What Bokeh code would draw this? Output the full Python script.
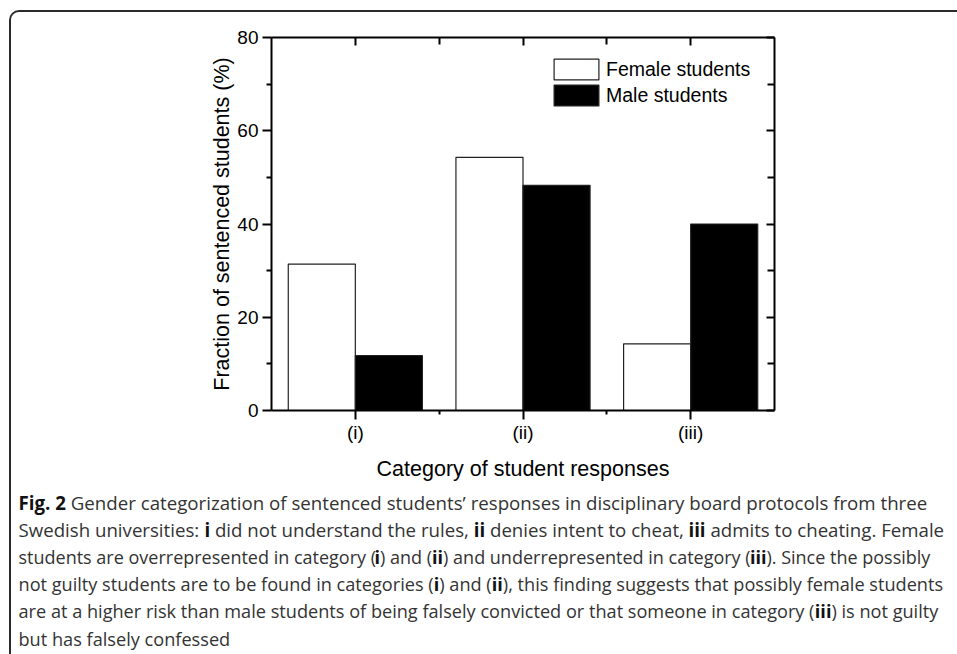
import glob
import os
import numpy as np
from bokeh.plotting import figure
from bokeh.layouts import column
from bokeh.models import (Range1d, LinearAxis, FixedTicker, Legend, LegendItem,
                          ColumnDataSource, InlineStyleSheet)
from bokeh.core.properties import value
from bokeh.embed import file_html
from bokeh.resources import INLINE

# ---------------- data ----------------
categories = ["(i)", "(ii)", "(iii)"]
female = [31.4, 54.3, 14.3]
male = [11.8, 48.3, 40.0]
series_names = ["Female students", "Male students"]
y_ticks = [0, 20, 40, 60, 80]
y_minor = [10, 30, 50, 70]
x_title = "Category of student responses"
y_title = "Fraction of sentenced students (%)"

caption_lines = [
    [("Fig. 2", True), (" Gender categorization of sentenced students\u2019 responses in disciplinary board protocols from three", False)],
    [("Swedish universities: ", False), ("i", True), (" did not understand the rules, ", False), ("ii", True),
     (" denies intent to cheat, ", False), ("iii", True), (" admits to cheating. Female", False)],
    [("students are overrepresented in category (", False), ("i", True), (") and (", False), ("ii", True),
     (") and underrepresented in category (", False), ("iii", True), ("). Since the possibly", False)],
    [("not guilty students are to be found in categories (", False), ("i", True), (") and (", False), ("ii", True),
     ("), this finding suggests that possibly female students", False)],
    [("are at a higher risk than male students of being falsely convicted or that someone in category (", False),
     ("iii", True), (") is not guilty", False)],
    [("but has falsely confessed", False)],
]
# measured line lengths of the caption in the reference (pixels)
caption_line_widths = [908, 926, 912, 925, 920, 212]

# ---------------- layout constants ----------------
W = 957
H_CHART, H_CAP = 490, 164
ML, MR, MT = 271, 183, 37
MB = H_CHART - MT - 373
FONT = "Liberation Sans"
CAP_FONT = "Open Sans"

p = figure(width=W, height=H_CHART, output_backend="svg", toolbar_location=None,
           x_range=Range1d(0.5, 3.5), y_range=Range1d(0, 80),
           min_border_left=ML, min_border_right=MR, min_border_top=MT, min_border_bottom=MB)
p.frame_align = False
p.xgrid.visible = False
p.ygrid.visible = False
p.outline_line_color = None
p.background_fill_color = "white"
p.border_fill_color = "white"

xpos = list(range(1, len(categories) + 1))
x_ticker = FixedTicker(ticks=xpos, minor_ticks=[v + 0.5 for v in xpos[:-1]])
y_ticker = FixedTicker(ticks=y_ticks, minor_ticks=y_minor)


def base_style(ax):
    ax.axis_line_width = 2
    ax.axis_line_color = "black"
    ax.major_tick_line_width = 2
    ax.minor_tick_line_width = 2
    ax.major_tick_line_color = "black"
    ax.minor_tick_line_color = "black"
    ax.major_label_text_font = FONT
    ax.major_label_text_font_size = "19px"
    ax.major_label_text_color = "black"
    ax.axis_label_text_font = FONT
    ax.axis_label_text_font_size = "21.5px"
    ax.axis_label_text_font_style = "normal"
    ax.axis_label_text_color = "black"


xa = p.xaxis[0]
base_style(xa)
xa.ticker = x_ticker
xa.major_label_overrides = {v: c for v, c in zip(xpos, categories)}
xa.major_tick_out = 9
xa.major_tick_in = 0
xa.minor_tick_out = 4
xa.minor_tick_in = 0
xa.major_label_standoff = 2
xa.axis_label = x_title
xa.axis_label_standoff = 11

ya = p.yaxis[0]
base_style(ya)
ya.ticker = y_ticker
ya.major_tick_out = 9
ya.major_tick_in = 0
ya.minor_tick_out = 5
ya.minor_tick_in = 0
ya.major_label_standoff = 4
ya.axis_label = y_title
ya.axis_label_standoff = 0

top = LinearAxis(ticker=x_ticker)
base_style(top)
top.major_label_overrides = {v: "" for v in xpos}
top.major_tick_in = 8
top.major_tick_out = 0
top.minor_tick_in = 7
top.minor_tick_out = 0
p.add_layout(top, "above")

right = LinearAxis(ticker=y_ticker)
base_style(right)
right.major_label_overrides = {v: "" for v in y_ticks}
right.major_tick_in = 8
right.major_tick_out = 0
right.minor_tick_in = 7
right.minor_tick_out = 0
p.add_layout(right, "right")

# ---------------- bars ----------------
xs = np.array(xpos, dtype=float)
src = ColumnDataSource(dict(xf=xs - 0.2, xm=xs + 0.2, female=female, male=male))
rf = p.vbar(x="xf", top="female", bottom=0, width=0.4, source=src,
            fill_color="white", line_color="#222222", line_width=1.2)
rm = p.vbar(x="xm", top="male", bottom=0, width=0.4, source=src,
            fill_color="black", line_color="#222222", line_width=1.2)

legend = Legend(items=[LegendItem(label=value(series_names[0]), renderers=[rf]),
                       LegendItem(label=value(series_names[1]), renderers=[rm])],
                location=(277, 302), orientation="vertical",
                glyph_width=56, glyph_height=26, spacing=-3, padding=0, margin=0,
                label_standoff=2, label_height=20,
                label_text_font=FONT, label_text_font_size="19.5px", label_text_color="black",
                border_line_color=None, background_fill_alpha=0)
p.add_layout(legend)

# ---------------- caption (second figure, pixel coordinates) ----------------
from PIL import ImageFont


def find_font(patterns):
    dirs = ["/usr/share/fonts", "/usr/local/share/fonts",
            os.path.expanduser("~/.local/share/fonts"), os.path.expanduser("~/.fonts")]
    for pat in patterns:
        for d in dirs:
            hits = sorted(glob.glob(os.path.join(d, "**", pat), recursive=True))
            if hits:
                return hits[0]
    return None


reg_path = find_font(["OpenSans-Regular.ttf", "OpenSans-Regular.otf", "OpenSans*wght*.ttf", "OpenSans*.ttf"])
bold_path = find_font(["OpenSans-Bold.ttf", "OpenSans-Bold.otf"]) or reg_path


def load(path, bold):
    if path is None:
        return None
    try:
        f = ImageFont.truetype(path, 100)
    except Exception:
        return None
    if bold and path == reg_path:
        try:
            f.set_variation_by_name("Bold")
        except Exception:
            pass
    return f


f_reg = load(reg_path, False)
f_bold = load(bold_path, True)


def width100(text, bold):
    f = f_bold if bold else f_reg
    if f is not None:
        return f.getlength(text)
    return len(text) * (56.0 if bold else 52.0)


cap_x0 = 18.0
first_baseline = 501.5 - H_CHART
line_step = 27.3

reg = dict(x=[], y=[], t=[], s=[])
bld = dict(x=[], y=[], t=[], s=[])
for li, segs in enumerate(caption_lines):
    line_w100 = sum(width100(t, b) for t, b in segs)
    size = max(16.0, min(20.0, 100.0 * caption_line_widths[li] / line_w100))
    size_str = f"{size:.2f}px"
    yy = first_baseline + li * line_step
    cur = cap_x0
    for text, bold in segs:
        stripped = text.lstrip(" ")
        lead = text[:len(text) - len(stripped)]
        cur += width100(lead, bold) * size / 100.0
        core = stripped.rstrip(" ")
        trail = stripped[len(core):]
        if core:
            d = bld if bold else reg
            d["x"].append(cur)
            d["y"].append(yy)
            d["t"].append(core)
            d["s"].append(size_str)
        cur += width100(core, bold) * size / 100.0
        cur += width100(trail, bold) * size / 100.0

c = figure(width=W, height=H_CAP, output_backend="svg", toolbar_location=None,
           x_range=Range1d(0, W), y_range=Range1d(H_CAP, 0),
           x_axis_location=None, y_axis_location=None,
           min_border_left=0, min_border_right=0, min_border_top=0, min_border_bottom=0)
c.frame_align = False
c.xgrid.visible = False
c.ygrid.visible = False
c.outline_line_color = None
c.background_fill_color = "white"
c.border_fill_color = "white"
c.text(x="x", y="y", text="t", source=ColumnDataSource(reg),
       text_font=value(CAP_FONT), text_font_size="s",
       text_font_style="normal", text_color="#333333",
       text_align="left", text_baseline="alphabetic")
c.text(x="x", y="y", text="t", source=ColumnDataSource(bld),
       text_font=value(CAP_FONT), text_font_size="s",
       text_font_style="bold", text_color="#111111",
       text_align="left", text_baseline="alphabetic")

# outer rounded box edge (top + left) as page decoration
box_css = InlineStyleSheet(css="""
:host { position: relative; }
:host::after {
  content: "";
  position: absolute;
  left: 9px; top: 10px; right: 0px; bottom: 0px;
  border-left: 2px solid #2b2b2b;
  border-top: 2px solid #2b2b2b;
  border-top-left-radius: 10px;
  pointer-events: none;
  box-sizing: border-box;
}
""")

layout = column(p, c, spacing=0, stylesheets=[box_css])

open("out.html", "w").write(file_html(layout, INLINE))
